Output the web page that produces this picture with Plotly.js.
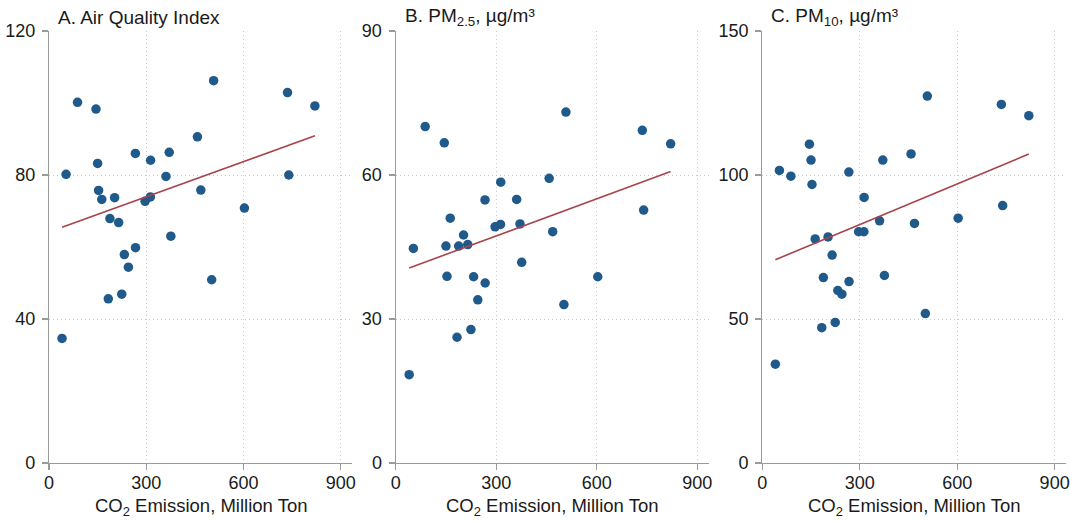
<!DOCTYPE html>
<html>
<head>
<meta charset="utf-8">
<script src="https://cdn.plot.ly/plotly-3.0.1.min.js"></script>
<style>html,body{margin:0;padding:0;background:#fff;}#chart{width:1070px;height:522px;}</style>
</head>
<body>
<div id="chart"></div>
<script>
// CO2 emission (million ton), one value per province
const co2 = [40.2, 52.7, 88, 145, 150, 153, 162.8, 183, 188, 202.5,
             215, 224.5, 232.5, 245, 266.5, 267, 296.5, 312.8, 313.5, 361,
             371, 376, 458, 468.5, 502, 508, 603, 736, 740, 820.5];
// A. Air Quality Index
const aqi = [34.6, 80.2, 100.2, 98.3, 83.2, 75.7, 73.2, 45.6, 67.9, 73.7,
             66.8, 46.9, 57.9, 54.4, 86.0, 59.8, 72.7, 73.9, 84.1, 79.6,
             86.3, 63.0, 90.6, 75.8, 50.9, 106.2, 70.8, 102.9, 80.0, 99.2];
// B. PM2.5
const pm25 = [18.4, 44.7, 70.1, 66.7, 45.2, 38.9, 51.0, 26.2, 45.2, 47.5,
              45.5, 27.8, 38.8, 34.0, 54.8, 37.5, 49.2, 49.7, 58.5, 54.9,
              49.8, 41.8, 59.3, 48.2, 33.0, 73.1, 38.8, 69.3, 52.7, 66.5];
// C. PM10
const pm10 = [34.3, 101.6, 99.6, 110.7, 105.2, 96.7, 77.8, 47.0, 64.4, 78.5,
              72.2, 48.8, 59.9, 58.6, 101.0, 63.0, 80.3, 80.3, 92.2, 84.1,
              105.2, 65.1, 107.3, 83.2, 51.9, 127.4, 85.0, 124.5, 89.4, 120.6];

const panelTitles = ['A. Air Quality Index', 'B. PM<sub>2.5</sub>, µg/m³', 'C. PM<sub>10</sub>, µg/m³'];
const xTitle = 'CO<sub>2</sub> Emission, Million Ton';
const xTicks = [0, 300, 600, 900];
const yTicksA = [0, 40, 80, 120];
const yTicksB = [0, 30, 60, 90];
const yTicksC = [0, 50, 100, 150];

function olsLine(x, y) {
  const n = x.length;
  const mx = x.reduce((a, b) => a + b, 0) / n;
  const my = y.reduce((a, b) => a + b, 0) / n;
  let sxy = 0, sxx = 0;
  for (let i = 0; i < n; i++) { sxy += (x[i] - mx) * (y[i] - my); sxx += (x[i] - mx) ** 2; }
  const b = sxy / sxx, a = my - b * mx;
  const xmin = Math.min(...x), xmax = Math.max(...x);
  return { x: [xmin, xmax], y: [a + b * xmin, a + b * xmax] };
}

const W = 1070, H = 522;
const FONT = '"Liberation Sans", Arial, Helvetica, sans-serif';
const DOT = '#1f5a8a', LINE = '#a8434b', AX = '#9a9a9a', TXT = '#1a1a1a', GRID = '#c8c8c8';

const panels = [
  { y: aqi,  ticks: yTicksA, left: 49,    right: 352 },
  { y: pm25, ticks: yTicksB, left: 395.7, right: 709 },
  { y: pm10, ticks: yTicksC, left: 762.3, right: 1066 }
];
const plotTop = 31, plotBottom = 463;

const data = [];
const layout = {
  width: W, height: H,
  margin: { l: 0, r: 0, t: 0, b: 0 },
  paper_bgcolor: '#fff', plot_bgcolor: '#fff',
  showlegend: false,
  font: { family: FONT, color: TXT, size: 18 },
  annotations: []
};

panels.forEach((p, i) => {
  const k = i === 0 ? '' : String(i + 1);
  const fit = olsLine(co2, p.y);
  data.push({
    type: 'scatter', mode: 'markers', x: co2, y: p.y,
    xaxis: 'x' + k, yaxis: 'y' + k,
    marker: { color: DOT, size: 9.5, line: { width: 0 } },
    hoverinfo: 'x+y'
  });
  data.push({
    type: 'scatter', mode: 'lines', x: fit.x, y: fit.y,
    xaxis: 'x' + k, yaxis: 'y' + k,
    line: { color: LINE, width: 1.6 }, hoverinfo: 'skip'
  });
  const ymax = p.ticks[p.ticks.length - 1];
  layout['xaxis' + k] = {
    domain: [p.left / W, p.right / W], anchor: 'y' + k,
    range: [0, 935], tickvals: xTicks, ticktext: xTicks.map(String),
    showline: true, linecolor: AX, linewidth: 1.2,
    ticks: 'outside', ticklen: 6, tickcolor: AX, tickwidth: 1.2,
    showgrid: true, gridcolor: GRID, griddash: '1px,3px', gridwidth: 1,
    zeroline: false, tickfont: { size: 18, color: TXT, family: FONT },
    ticklabelstandoff: -3, fixedrange: true
  };
  layout['yaxis' + k] = {
    domain: [(H - plotBottom) / H, (H - plotTop) / H], anchor: 'x' + k,
    range: [0, ymax], tickvals: p.ticks, ticktext: p.ticks.map(String),
    showline: true, linecolor: AX, linewidth: 1.2,
    ticks: 'outside', ticklen: 6, tickcolor: AX, tickwidth: 1.2,
    showgrid: true, gridcolor: GRID, griddash: '1px,3px', gridwidth: 1,
    zeroline: false, tickfont: { size: 18, color: TXT, family: FONT },
    ticklabelstandoff: 3, fixedrange: true
  };
  layout.annotations.push({
    xref: 'paper', yref: 'paper', x: (p.left + 7) / W, y: (H - 17) / H,
    xanchor: 'left', yanchor: 'middle', showarrow: false,
    text: panelTitles[i], font: { size: 19, color: TXT, family: FONT }
  });
  layout.annotations.push({
    xref: 'paper', yref: 'paper', x: (p.left + p.right) / 2 / W, y: (H - 507) / H,
    xanchor: 'center', yanchor: 'middle', showarrow: false,
    text: xTitle, font: { size: 18.5, color: TXT, family: FONT }
  });
});

Plotly.newPlot('chart', data, layout, { displayModeBar: false, staticPlot: true });
</script>
</body>
</html>
